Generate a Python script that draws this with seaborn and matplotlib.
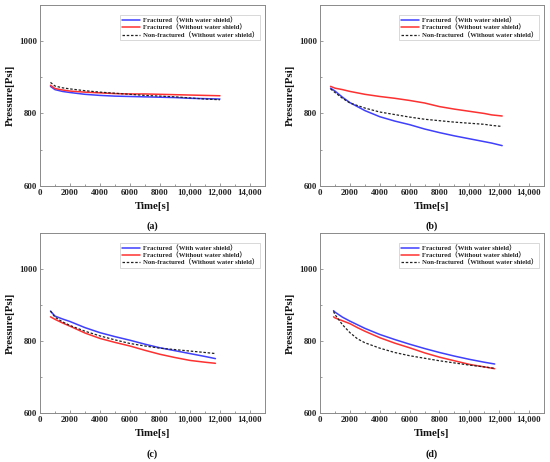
import numpy as np
import pandas as pd
import matplotlib
matplotlib.use("Agg")
import matplotlib.pyplot as plt
import seaborn as sns
from matplotlib.ticker import FixedLocator, FixedFormatter, MultipleLocator

# ---------------- data ----------------
series_labels = ["Fractured（With water shield）",
                 "Fractured（Without water shield）",
                 "Non-fractured（Without water shield）"]
panel_tags = ["(a)", "(b)", "(c)", "(d)"]
x_ticks = [0, 2000, 4000, 6000, 8000, 10000, 12000, 14000]
x_tick_labels = ["0", "2000", "4000", "6000", "8000", "10,000", "12,000", "14,000"]
y_ticks = [600, 800, 1000]

# panel (a)
a_time = [700, 1000, 1500, 2000, 3000, 4000, 5000, 6000, 7000, 8000, 9000, 10000, 11000, 12000]
a_blue = [875, 866, 861, 858, 853, 850, 848, 847, 846, 845, 844, 842, 841, 840]
a_red = [878, 869, 865, 862, 859, 857, 855, 854, 854, 853, 852, 851, 850, 849]
a_black = [886, 876, 871, 868, 863, 859, 856, 853, 850, 848, 846, 843, 840, 838]

# panel (b)
b_time = [700, 1000, 1500, 2000, 3000, 4000, 5000, 6000, 7000, 8000, 9000, 10000, 11000, 11500, 12200]
b_blue = [870, 862, 845, 830, 808, 791, 779, 769, 757, 747, 738, 730, 722, 718, 711]
b_red = [875, 870, 866, 861, 853, 847, 842, 836, 829, 819, 812, 806, 800, 796, 793]
b_black = [868, 858, 842, 829, 815, 804, 797, 790, 784, 780, 776, 773, 770, 767, 764]

# panel (c)
c_time = [700, 1000, 1500, 2000, 3000, 4000, 5000, 6000, 7000, 8000, 9000, 10000, 11000, 11700]
c_blue = [883, 869, 861, 854, 837, 823, 812, 802, 791, 781, 773, 765, 757, 751]
c_red = [867, 860, 850, 841, 822, 807, 796, 786, 774, 763, 754, 746, 741, 738]
c_black = [883, 866, 853, 843, 827, 814, 803, 793, 786, 780, 776, 772, 768, 765]

# panel (d)
d_time = [900, 1000, 1500, 2000, 2500, 3000, 4000, 5000, 6000, 7000, 8000, 9000, 10000, 11000, 11700]
d_blue = [884, 880, 866, 855, 845, 835, 818, 804, 791, 779, 768, 758, 749, 741, 736]
d_red = [867, 864, 856, 848, 837, 827, 809, 794, 781, 767, 755, 745, 735, 728, 723]
d_black = [882, 873, 845, 823, 806, 795, 780, 768, 759, 752, 745, 739, 733, 728, 724]

panels = [
    (a_time, a_blue, a_red, a_black),
    (b_time, b_blue, b_red, b_black),
    (c_time, c_blue, c_red, c_black),
    (d_time, d_blue, d_red, d_black),
]

# ---------------- style ----------------
sns.set_theme(style="ticks")
serif = ["Liberation Serif", "Noto Sans CJK SC", "DejaVu Sans"]
plt.rcParams["font.family"] = serif
plt.rcParams["font.weight"] = "bold"
plt.rcParams["axes.labelweight"] = "bold"

colors = ["#3f3fff", "#ff3030", "#222222"]
styles = ["-", "-", (0, (2.0, 1.4))]

fig = plt.figure(figsize=(5.5, 4.62), dpi=100)
rects = [
    [0.0727, 0.598, 0.409, 0.391],
    [0.582, 0.598, 0.407, 0.391],
    [0.0727, 0.106, 0.409, 0.390],
    [0.582, 0.106, 0.407, 0.390],
]

spine_col = "#8a8a8a"
for i, (rect, data) in enumerate(zip(rects, panels)):
    ax = fig.add_axes(rect)
    t = data[0]
    for j in range(3):
        df = pd.DataFrame({"Time": t, "Pressure": data[j + 1]})
        sns.lineplot(data=df, x="Time", y="Pressure", ax=ax, color=colors[j],
                     linestyle=styles[j], linewidth=1.1 if j < 2 else 0.9,
                     label=series_labels[j])
    ax.set_xlim(0, 15000)
    ax.set_ylim(600, 1100)
    ax.xaxis.set_major_locator(FixedLocator(x_ticks))
    ax.xaxis.set_major_formatter(FixedFormatter(x_tick_labels))
    ax.xaxis.set_minor_locator(MultipleLocator(1000))
    ax.yaxis.set_major_locator(FixedLocator(y_ticks))
    ax.yaxis.set_minor_locator(MultipleLocator(100))
    ax.tick_params(which="both", direction="in", color=spine_col, width=0.6)
    ax.tick_params(which="major", length=2.5, labelsize=6.3, pad=2)
    ax.tick_params(which="minor", length=1.5)
    for lab in ax.get_xticklabels() + ax.get_yticklabels():
        lab.set_fontweight("bold")
        lab.set_color("#222222")
    for sp in ax.spines.values():
        sp.set_visible(True)
        sp.set_color(spine_col)
        sp.set_linewidth(0.7)
    ax.set_xlabel("Time[s]", fontsize=7.8, fontweight="bold", labelpad=4, color="#111111")
    ax.set_ylabel("Pressure[Psi]", fontsize=7.8, fontweight="bold", labelpad=3, color="#111111")
    ax.text(0.5, -0.2, panel_tags[i], transform=ax.transAxes, ha="center", va="top",
            fontsize=7.2, fontweight="bold", color="#111111")
    leg = ax.legend(loc="upper right", bbox_to_anchor=(0.995, 0.965),
                    frameon=True, fancybox=False, edgecolor="#bbbbbb", borderpad=0.3,
                    labelspacing=0.12, handlelength=2.6, handletextpad=0.4,
                    prop={"family": serif, "weight": "bold", "size": 4.9})
    leg.get_frame().set_linewidth(0.5)

fig.savefig("out.png", dpi=100)
